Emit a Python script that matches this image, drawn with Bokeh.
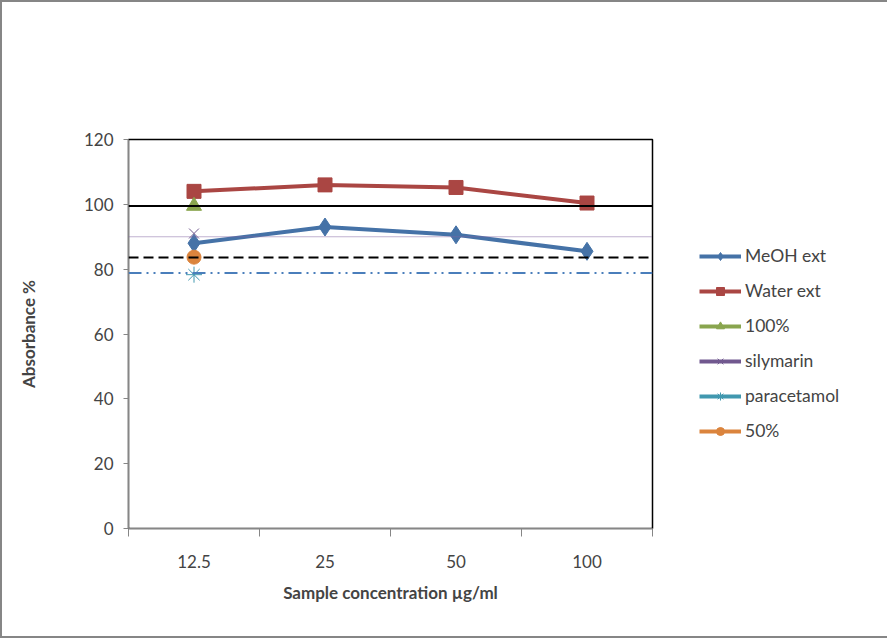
from bokeh.plotting import figure
from bokeh.models import FixedTicker, Span, Legend, LegendItem, Range1d
from bokeh.embed import file_html
from bokeh.resources import INLINE

categories = ["12.5", "25", "50", "100"]
meoh = [88.0, 93.0, 90.6, 85.5]
water = [104.0, 106.0, 105.2, 100.4]
p100 = [99.5]
silymarin = [91.0]
paracetamol = [78.3]
p50 = [83.7]
ref_levels = [99.5, 90.0, 83.6, 78.8]
y_ticks = [0, 20, 40, 60, 80, 100, 120]

FONT = "Lato"
xs = list(range(len(categories)))

p = figure(frame_width=524, frame_height=389, output_backend="svg", toolbar_location=None,
           x_range=Range1d(-0.5, len(categories) - 0.5), y_range=Range1d(0, 120),
           min_border_left=126, min_border_right=20, min_border_top=137, min_border_bottom=108)
p.styles = {"border": "2px solid #868686"}
p.grid.visible = False
p.outline_line_color = "black"
p.outline_line_width = 1.5
p.background_fill_color = "white"

# x axis
xa = p.xaxis[0]
xa.ticker = FixedTicker(ticks=xs, minor_ticks=[i - 0.5 for i in range(len(categories) + 1)])
xa.major_label_overrides = {i: c for i, c in enumerate(categories)}
xa.major_tick_out = 0
xa.major_tick_in = 0
xa.minor_tick_out = 8
xa.minor_tick_in = 0
xa.minor_tick_line_color = "#868686"
xa.axis_line_color = "#868686"
xa.major_label_standoff = 18
xa.axis_label = "Sample concentration \u00b5g/ml"
xa.axis_label_text_font_style = "bold"
xa.axis_label_text_font_size = "17px"
xa.axis_label_text_font = FONT
xa.major_label_text_font = FONT
xa.major_label_text_font_size = "17px"
xa.axis_label_standoff = 11

ya = p.yaxis[0]
ya.ticker = FixedTicker(ticks=y_ticks, minor_ticks=[])
ya.major_tick_out = 5
ya.major_tick_in = 0
ya.major_tick_line_color = "#868686"
ya.axis_line_color = "#868686"
ya.major_label_standoff = 10
ya.axis_label = "Absorbance %"
ya.axis_label_text_font_style = "bold"
ya.axis_label_text_font_size = "17px"
ya.axis_label_text_font = FONT
ya.major_label_text_font = FONT
ya.major_label_text_font_size = "17px"
ya.axis_label_standoff = 42

# reference lines
styles = [("black", 2, "solid"), ("#8064A2", 1, "1 1"), ("black", 2, "10 5"), ("#4a7ebb", 2, "13 5 2 5 2 5")]
for lvl, (c, w, d) in zip(ref_levels, styles):
    p.add_layout(Span(location=lvl, dimension="width", line_color=c, line_width=w, line_dash=d))

items = []
BLUE, RED, GREEN, PURPLE, TEAL, ORANGE = "#4572A7", "#AA4643", "#89A54E", "#71588F", "#4198AF", "#DB843D"

l1 = p.line(xs, meoh, line_color=BLUE, line_width=4)
s1 = p.scatter(xs, meoh, marker="diamond", size=18, fill_color=BLUE, line_color=BLUE)
items.append(LegendItem(label="MeOH ext", renderers=[l1, s1]))

l2 = p.line(xs, water, line_color=RED, line_width=4)
s2 = p.scatter(xs, water, marker="square", size=14, fill_color=RED, line_color=RED)
items.append(LegendItem(label="Water ext", renderers=[l2, s2]))

nan = float("nan")

def single(vals, marker, color, size, label, lw=1):
    x0 = xs[:len(vals)]
    ld = p.line(x=[0, 0], y=[nan, nan], line_color=color, line_width=4)
    s = p.scatter(x0, vals, marker=marker, size=size, fill_color=color, line_color=color, line_width=lw)
    items.append(LegendItem(label=label, renderers=[ld, s]))

single(p100, "triangle", GREEN, 15, "100%")
single(silymarin, "x", PURPLE, 14, "silymarin", lw=1)
single(paracetamol, "asterisk", TEAL, 16, "paracetamol", lw=1)
single(p50, "circle", ORANGE, 14, "50%")

legend = Legend(items=items, location=(47, 87), border_line_color=None, background_fill_alpha=0,
                label_text_font=FONT, label_text_font_size="17.5px", glyph_width=42, glyph_height=20,
                label_standoff=4, spacing=14, padding=0, margin=0)
p.add_layout(legend, "right")

open("out.html", "w").write(file_html(p, INLINE))
